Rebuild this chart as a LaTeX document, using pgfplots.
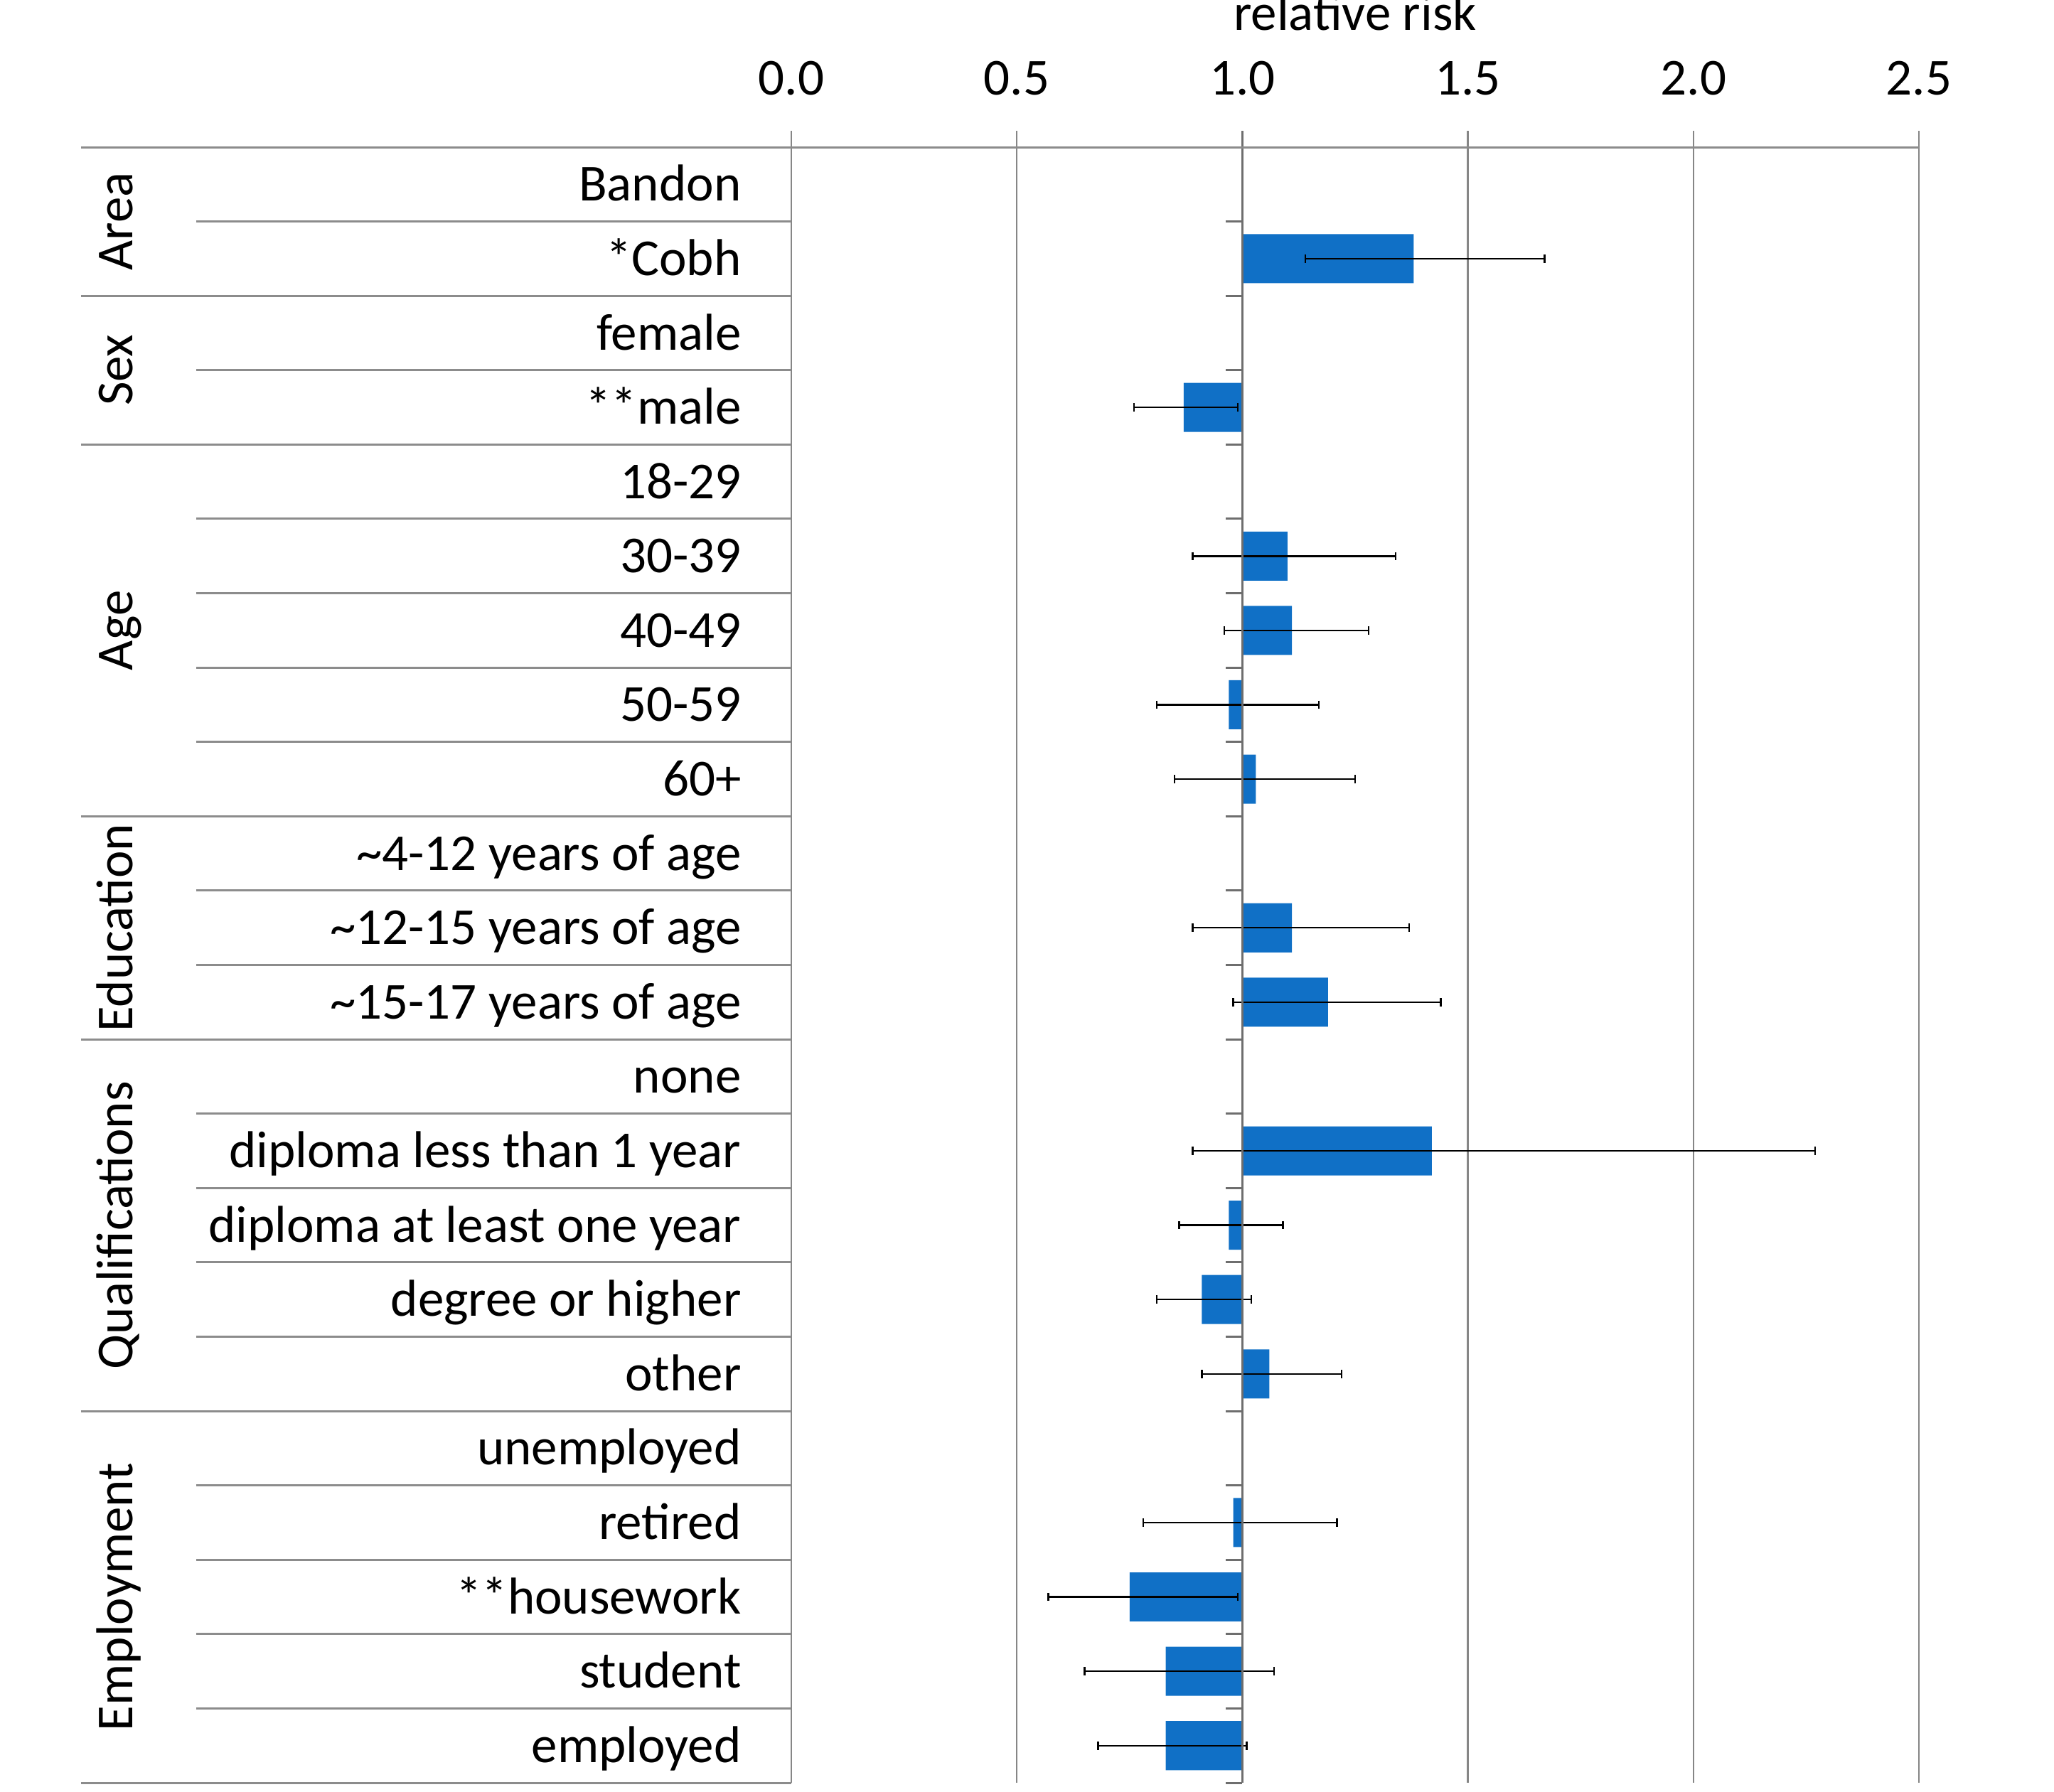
\documentclass[border=0pt]{standalone}
\usepackage{pgfplots}
\pgfplotsset{compat=1.18}
\usepackage{pgfplotstable}
\usepackage{fontspec}
\setmainfont{Carlito}

\definecolor{barblue}{RGB}{16,112,198}
\definecolor{gridgray}{RGB}{134,134,134}
\definecolor{axisgray}{RGB}{110,110,110}
\definecolor{rulegray}{RGB}{140,140,140}
\newcommand\lblfont{\fontsize{14.6pt}{17pt}\selectfont}

% relative risk with 95% interval; row = position from the top (0 = Bandon)
% (reference categories Bandon, female, 18-29, ~4-12, none, unemployed have no bar)
\pgfplotstableread{
row  rr    lo    hi
1    1.38  1.14  1.67
3    0.87  0.76  0.99
5    1.10  0.89  1.34
6    1.11  0.96  1.28
7    0.97  0.81  1.17
8    1.03  0.85  1.25
10   1.11  0.89  1.37
11   1.19  0.98  1.44
13   1.42  0.89  2.27
14   0.97  0.86  1.09
15   0.91  0.81  1.02
16   1.06  0.91  1.22
18   0.98  0.78  1.21
19   0.75  0.57  0.99
20   0.83  0.65  1.07
21   0.83  0.68  1.01
}\rrdata

\begin{document}
\begin{tikzpicture}
\begin{axis}[
  name=ax,
  scale only axis,
  width=317.2pt, height=464.8pt,
  % bars grow from a relative risk of 1, so the axis runs in (rr - 1)
  xmin=-1, xmax=1.5,
  ymin=-0.22, ymax=22, y dir=reverse,
  axis line style={draw=none},
  major tick length=0pt,
  xtick={-1,-0.5,0,0.5,1,1.5},
  xticklabels={0.0,0.5,1.0,1.5,2.0,2.5},
  xticklabel pos=upper,
  xticklabel style={anchor=base, inner sep=0pt, yshift=10.2pt, font=\lblfont},
  ytick={0.5,1.5,...,21.5},
  yticklabels={Bandon,*Cobh,female,**male,18-29,30-39,40-49,50-59,60+,
    \textasciitilde 4-12 years of age,\textasciitilde 12-15 years of age,\textasciitilde 15-17 years of age,
    none,diploma less than 1 year,diploma at least one year,degree or higher,other,
    unemployed,retired,**housework,student,employed},
  yticklabel style={anchor=base east, inner sep=0pt, xshift=-13.9pt, yshift=-4.7pt, font=\lblfont},
  xmajorgrids,
  grid style={gridgray, line width=0.5pt},
  clip=false,
]
% bars
\addplot[xbar, bar width=0.66, fill=barblue, draw=none,
  error bars/.cd, x dir=both, x explicit, error mark=none,
  error bar style={black, line width=0.5pt}]
  table[y expr=\thisrow{row}+0.5, x expr=\thisrow{rr}-1,
        x error plus expr=\thisrow{hi}-\thisrow{rr},
        x error minus expr=\thisrow{rr}-\thisrow{lo}]{\rrdata};
% caps at the interval ends
\addplot[only marks, mark=|, mark size=1.15pt, mark options={black, line width=0.5pt}]
  table[y expr=\thisrow{row}+0.5, x expr=\thisrow{lo}-1]{\rrdata};
\addplot[only marks, mark=|, mark size=1.15pt, mark options={black, line width=0.5pt}]
  table[y expr=\thisrow{row}+0.5, x expr=\thisrow{hi}-1]{\rrdata};

% value axis at relative risk 1
\draw[axisgray, line width=0.5pt] (axis cs:0,-0.22) -- (axis cs:0,22);
\pgfplotsinvokeforeach{0,...,22}{
  \draw[axisgray, line width=0.6pt] ([xshift=-4.6pt]axis cs:0,#1) -- (axis cs:0,#1);
}

% category table rules
\draw[rulegray, line width=0.6pt] ([xshift=-199.8pt]axis cs:-1,0) -- (axis cs:1.5,0);
\pgfplotsinvokeforeach{2,4,9,12,17,22}{
  \draw[rulegray, line width=0.6pt] ([xshift=-199.8pt]axis cs:-1,#1) -- (axis cs:-1,#1);
}
\pgfplotsinvokeforeach{1,3,5,6,7,8,10,11,13,14,15,16,18,19,20,21}{
  \draw[rulegray, line width=0.6pt] ([xshift=-167.4pt]axis cs:-1,#1) -- (axis cs:-1,#1);
}

% group names
\node[rotate=90, anchor=base, font=\lblfont] at ([xshift=-185.2pt]axis cs:-1,1) {Area};
\node[rotate=90, anchor=base, font=\lblfont] at ([xshift=-185.2pt]axis cs:-1,3) {Sex};
\node[rotate=90, anchor=base, font=\lblfont] at ([xshift=-185.2pt]axis cs:-1,6.5) {Age};
\node[rotate=90, anchor=base, font=\lblfont] at ([xshift=-185.2pt]axis cs:-1,10.5) {Education};
\node[rotate=90, anchor=base, font=\lblfont] at ([xshift=-185.2pt]axis cs:-1,14.5) {Qualifications};
\node[rotate=90, anchor=base, font=\lblfont] at ([xshift=-185.2pt]axis cs:-1,19.5) {Employment};

% axis title
\node[anchor=base, font=\lblfont] at ([yshift=28.4pt]axis cs:0.25,-0.22) {relative risk};
\end{axis}
\pgfresetboundingbox
\path[use as bounding box] ([shift={(-222.6pt,-2.4pt)}]ax.south west) rectangle ([shift={(355.2pt,501.6pt)}]ax.south west);
\end{tikzpicture}
\end{document}
